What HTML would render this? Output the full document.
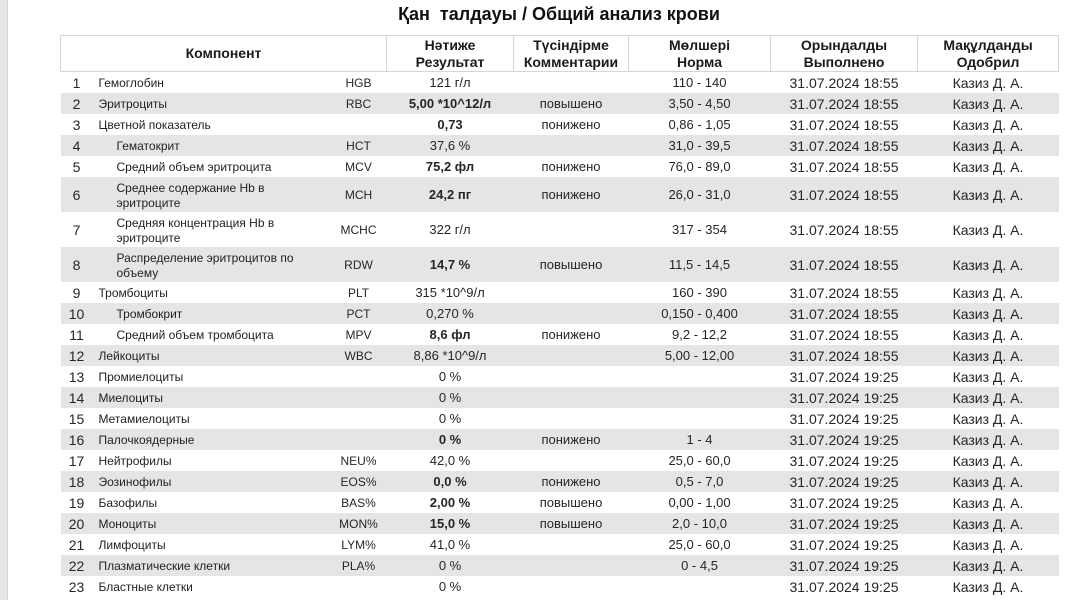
<!DOCTYPE html>
<html>
<head>
<meta charset="utf-8">
<style>
  html, body { margin:0; padding:0; }
  body { width:1075px; height:600px; background:#fff; position:relative; overflow:hidden;
         font-family:"Liberation Sans", "DejaVu Sans", sans-serif; color:#262626; }
  .strip { position:absolute; left:0; top:0; width:7px; height:600px; background:#e6e6e6; border-right:1px solid #d2d2d2; }
  .title { position:absolute; left:60px; width:998px; top:2px; line-height:24px; text-align:center;
           font-weight:bold; font-size:18px; color:#111; white-space:pre; }
  table { position:absolute; left:60px; top:35px; width:998px; border-collapse:collapse; table-layout:fixed; }
  th { border:1px solid #d6d6d6; font-size:14px; font-weight:bold; line-height:17px; height:35px; padding:0;
       text-align:center; color:#1a1a1a; vertical-align:middle; }
  td { padding:0; height:21px; vertical-align:middle; text-align:center; font-size:13px; white-space:nowrap; }
  tr.d td { height:35px; }
  tr.s td { background:#e5e5e5; }
  td.n { font-size:14px; }
  td.nm { text-align:left; padding-left:6px; font-size:12px; line-height:15px; white-space:normal; color:#222; }
  td.nm span { position:relative; top:1px; }
  td.nm.i { padding-left:24px; }
  td.c { font-size:12px; }
  td.dt { font-size:14px; }
  td.ap { font-size:14px; }
  b { font-weight:bold; }
</style>
</head>
<body>
<div class="strip"></div>
<div class="title">Қан  талдауы / Общий анализ крови</div>
<table>
  <colgroup>
    <col style="width:32px"><col style="width:238px"><col style="width:56px">
    <col style="width:127px"><col style="width:115px"><col style="width:142px">
    <col style="width:147px"><col style="width:141px">
  </colgroup>
  <tr>
    <th colspan="3">Компонент</th>
    <th>Нәтиже<br>Результат</th>
    <th>Түсіндірме<br>Комментарии</th>
    <th>Мөлшері<br>Норма</th>
    <th>Орындалды<br>Выполнено</th>
    <th>Мақұлданды<br>Одобрил</th>
  </tr>
  <tr><td class="n">1</td><td class="nm"><span>Гемоглобин</span></td><td class="c">HGB</td><td>121 г/л</td><td></td><td>110 - 140</td><td class="dt">31.07.2024 18:55</td><td class="ap">Казиз Д. А.</td></tr>
  <tr class="s"><td class="n">2</td><td class="nm"><span>Эритроциты</span></td><td class="c">RBC</td><td><b>5,00 *10^12/л</b></td><td>повышено</td><td>3,50 - 4,50</td><td class="dt">31.07.2024 18:55</td><td class="ap">Казиз Д. А.</td></tr>
  <tr><td class="n">3</td><td class="nm"><span>Цветной показатель</span></td><td class="c"></td><td><b>0,73</b></td><td>понижено</td><td>0,86 - 1,05</td><td class="dt">31.07.2024 18:55</td><td class="ap">Казиз Д. А.</td></tr>
  <tr class="s"><td class="n">4</td><td class="nm i"><span>Гематокрит</span></td><td class="c">HCT</td><td>37,6 %</td><td></td><td>31,0 - 39,5</td><td class="dt">31.07.2024 18:55</td><td class="ap">Казиз Д. А.</td></tr>
  <tr><td class="n">5</td><td class="nm i"><span>Средний объем эритроцита</span></td><td class="c">MCV</td><td><b>75,2 фл</b></td><td>понижено</td><td>76,0 - 89,0</td><td class="dt">31.07.2024 18:55</td><td class="ap">Казиз Д. А.</td></tr>
  <tr class="s d"><td class="n">6</td><td class="nm i"><span>Среднее содержание Hb в<br>эритроците</span></td><td class="c">MCH</td><td><b>24,2 пг</b></td><td>понижено</td><td>26,0 - 31,0</td><td class="dt">31.07.2024 18:55</td><td class="ap">Казиз Д. А.</td></tr>
  <tr class="d"><td class="n">7</td><td class="nm i"><span>Средняя концентрация Hb в<br>эритроците</span></td><td class="c">MCHC</td><td>322 г/л</td><td></td><td>317 - 354</td><td class="dt">31.07.2024 18:55</td><td class="ap">Казиз Д. А.</td></tr>
  <tr class="s d"><td class="n">8</td><td class="nm i"><span>Распределение эритроцитов по<br>объему</span></td><td class="c">RDW</td><td><b>14,7 %</b></td><td>повышено</td><td>11,5 - 14,5</td><td class="dt">31.07.2024 18:55</td><td class="ap">Казиз Д. А.</td></tr>
  <tr><td class="n">9</td><td class="nm"><span>Тромбоциты</span></td><td class="c">PLT</td><td>315 *10^9/л</td><td></td><td>160 - 390</td><td class="dt">31.07.2024 18:55</td><td class="ap">Казиз Д. А.</td></tr>
  <tr class="s"><td class="n">10</td><td class="nm i"><span>Тромбокрит</span></td><td class="c">PCT</td><td>0,270 %</td><td></td><td>0,150 - 0,400</td><td class="dt">31.07.2024 18:55</td><td class="ap">Казиз Д. А.</td></tr>
  <tr><td class="n">11</td><td class="nm i"><span>Средний объем тромбоцита</span></td><td class="c">MPV</td><td><b>8,6 фл</b></td><td>понижено</td><td>9,2 - 12,2</td><td class="dt">31.07.2024 18:55</td><td class="ap">Казиз Д. А.</td></tr>
  <tr class="s"><td class="n">12</td><td class="nm"><span>Лейкоциты</span></td><td class="c">WBC</td><td>8,86 *10^9/л</td><td></td><td>5,00 - 12,00</td><td class="dt">31.07.2024 18:55</td><td class="ap">Казиз Д. А.</td></tr>
  <tr><td class="n">13</td><td class="nm"><span>Промиелоциты</span></td><td class="c"></td><td>0 %</td><td></td><td></td><td class="dt">31.07.2024 19:25</td><td class="ap">Казиз Д. А.</td></tr>
  <tr class="s"><td class="n">14</td><td class="nm"><span>Миелоциты</span></td><td class="c"></td><td>0 %</td><td></td><td></td><td class="dt">31.07.2024 19:25</td><td class="ap">Казиз Д. А.</td></tr>
  <tr><td class="n">15</td><td class="nm"><span>Метамиелоциты</span></td><td class="c"></td><td>0 %</td><td></td><td></td><td class="dt">31.07.2024 19:25</td><td class="ap">Казиз Д. А.</td></tr>
  <tr class="s"><td class="n">16</td><td class="nm"><span>Палочкоядерные</span></td><td class="c"></td><td><b>0 %</b></td><td>понижено</td><td>1 - 4</td><td class="dt">31.07.2024 19:25</td><td class="ap">Казиз Д. А.</td></tr>
  <tr><td class="n">17</td><td class="nm"><span>Нейтрофилы</span></td><td class="c">NEU%</td><td>42,0 %</td><td></td><td>25,0 - 60,0</td><td class="dt">31.07.2024 19:25</td><td class="ap">Казиз Д. А.</td></tr>
  <tr class="s"><td class="n">18</td><td class="nm"><span>Эозинофилы</span></td><td class="c">EOS%</td><td><b>0,0 %</b></td><td>понижено</td><td>0,5 - 7,0</td><td class="dt">31.07.2024 19:25</td><td class="ap">Казиз Д. А.</td></tr>
  <tr><td class="n">19</td><td class="nm"><span>Базофилы</span></td><td class="c">BAS%</td><td><b>2,00 %</b></td><td>повышено</td><td>0,00 - 1,00</td><td class="dt">31.07.2024 19:25</td><td class="ap">Казиз Д. А.</td></tr>
  <tr class="s"><td class="n">20</td><td class="nm"><span>Моноциты</span></td><td class="c">MON%</td><td><b>15,0 %</b></td><td>повышено</td><td>2,0 - 10,0</td><td class="dt">31.07.2024 19:25</td><td class="ap">Казиз Д. А.</td></tr>
  <tr><td class="n">21</td><td class="nm"><span>Лимфоциты</span></td><td class="c">LYM%</td><td>41,0 %</td><td></td><td>25,0 - 60,0</td><td class="dt">31.07.2024 19:25</td><td class="ap">Казиз Д. А.</td></tr>
  <tr class="s"><td class="n">22</td><td class="nm"><span>Плазматические клетки</span></td><td class="c">PLA%</td><td>0 %</td><td></td><td>0 - 4,5</td><td class="dt">31.07.2024 19:25</td><td class="ap">Казиз Д. А.</td></tr>
  <tr><td class="n">23</td><td class="nm"><span>Бластные клетки</span></td><td class="c"></td><td>0 %</td><td></td><td></td><td class="dt">31.07.2024 19:25</td><td class="ap">Казиз Д. А.</td></tr>
</table>
</body>
</html>
